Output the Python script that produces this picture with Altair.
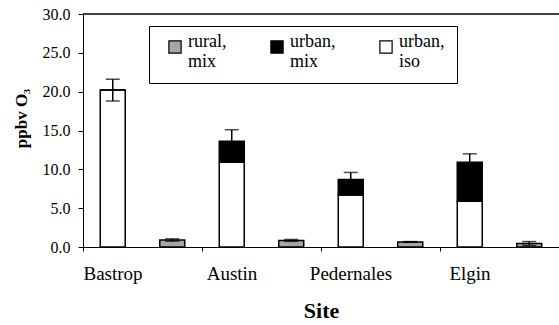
import altair as alt
import pandas as pd

sites = ["Bastrop", "Austin", "Pedernales", "Elgin"]
urban_iso = [20.2, 10.9, 6.7, 5.9]
urban_mix = [0.0, 2.7, 2.0, 5.0]
urban_err = [1.4, 1.5, 0.9, 1.1]
rural_mix = [0.9, 0.85, 0.65, 0.45]
rural_err = [0.15, 0.12, 0.05, 0.25]
series = ["rural, mix", "urban, mix", "urban, iso"]
colors = ["#a6a6a6", "#000000", "#ffffff"]
y_ticks = [0, 5, 10, 15, 20, 25, 30]

rows = []
for i, s in enumerate(sites):
    rows.append({"Site": s, "grp": "urban", "series": "urban, iso", "order": 0, "value": urban_iso[i]})
    rows.append({"Site": s, "grp": "urban", "series": "urban, mix", "order": 1, "value": urban_mix[i]})
    rows.append({"Site": s, "grp": "rural", "series": "rural, mix", "order": 0, "value": rural_mix[i]})
bars_df = pd.DataFrame(rows)

err_rows = []
for i, s in enumerate(sites):
    tot = urban_iso[i] + urban_mix[i]
    err_rows.append({"Site": s, "grp": "urban", "lo": tot - urban_err[i], "hi": tot + urban_err[i]})
    err_rows.append({"Site": s, "grp": "rural", "lo": rural_mix[i] - rural_err[i], "hi": rural_mix[i] + rural_err[i]})
err_df = pd.DataFrame(err_rows)

FONT = "Liberation Serif, Times New Roman, serif"

x_axis = alt.Axis(
    title="Site", titleFontSize=22, titleFontWeight="bold", titlePadding=17,
    titleFont=FONT, labelFont=FONT,
    labelAngle=0, labelFontSize=19, labelOffset=-30, labelPadding=13,
    tickBand="extent", tickSize=4, tickColor="black", domainColor="black",
    labelColor="black", titleColor="black", labelOverlap=False,
)
y_axis = alt.Axis(
    title="ppbv O₃", titleFontSize=17, titleFontWeight="bold", titlePadding=12,
    titleFont=FONT, labelFont=FONT, titleY=104,
    values=y_ticks, format=".1f", labelFontSize=16, labelPadding=8, grid=False,
    tickSize=5, tickColor="black", domainColor="black",
    labelColor="black", titleColor="black", labelOverlap=False,
)
x_scale = alt.Scale(paddingInner=0, paddingOuter=0)
y_scale = alt.Scale(domain=[0, 30], nice=False)
xs = alt.X("Site:N", sort=sites, scale=x_scale, axis=x_axis)
xo = alt.XOffset("grp:N", sort=["urban", "rural"],
                 scale=alt.Scale(paddingInner=0.58, paddingOuter=0.29))

bars = alt.Chart(bars_df).mark_bar(stroke="black", strokeWidth=1.5).encode(
    x=xs,
    xOffset=xo,
    y=alt.Y("value:Q", stack="zero", scale=y_scale, axis=y_axis),
    color=alt.Color(
        "series:N",
        scale=alt.Scale(domain=series, range=colors),
        legend=alt.Legend(
            title=None, orient="none", legendX=66, legendY=12,
            direction="horizontal", columns=3, symbolType="square",
            symbolSize=150, symbolStrokeColor="black", symbolStrokeWidth=1.2,
            labelFont=FONT, labelFontSize=18, labelColor="black",
            labelExpr="split(datum.label, ' ')",
            labelBaseline="alphabetic",
            strokeColor="black", padding=12, columnPadding=36,
            symbolOffset=5, labelOffset=4,
        ),
    ),
    order=alt.Order("order:Q"),
)

err = alt.Chart(err_df).mark_rule(color="black", strokeWidth=1.5).encode(
    x=xs, xOffset=xo,
    y=alt.Y("lo:Q", scale=y_scale, axis=y_axis), y2="hi:Q",
)
cap_hi = alt.Chart(err_df).mark_tick(color="black", thickness=1.5, size=14).encode(
    x=xs, xOffset=xo,
    y=alt.Y("hi:Q", scale=y_scale, axis=y_axis),
)
cap_lo = alt.Chart(err_df).mark_tick(color="black", thickness=1.5, size=14).encode(
    x=xs, xOffset=xo,
    y=alt.Y("lo:Q", scale=y_scale, axis=y_axis),
)
top_line = alt.Chart(pd.DataFrame({"v": [30]})).mark_rule(color="black", strokeWidth=1.5).encode(
    y=alt.Y("v:Q", scale=y_scale, axis=y_axis)
)

chart = alt.layer(bars, err, cap_hi, cap_lo, top_line).properties(
    width=476, height=233,
    autosize=alt.AutoSizeParams(type="none"),
    padding={"left": 83, "top": 14, "right": 0, "bottom": 78},
    background="white",
).configure_view(stroke=None)

chart.save("out.html", embed_options={"renderer": "svg", "actions": False})
